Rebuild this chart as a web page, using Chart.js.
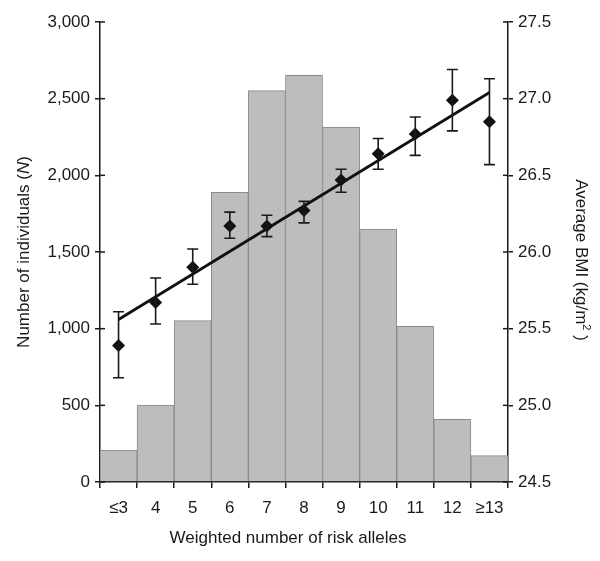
<!DOCTYPE html>
<html>
<head>
<meta charset="utf-8">
<script src="https://cdn.jsdelivr.net/npm/chart.js@4"></script>
<style>
  html, body { margin: 0; padding: 0; background: #fff; }
  #wrap { width: 600px; height: 561px; }
</style>
</head>
<body>
<div id="wrap"><canvas id="c" width="600" height="561"></canvas></div>
<script>
const categories = ["≤3", "4", "5", "6", "7", "8", "9", "10", "11", "12", "≥13"];
const individuals = [208, 502, 1052, 1889, 2552, 2652, 2315, 1650, 1015, 408, 172];
const bmiMean = [25.39, 25.67, 25.90, 26.17, 26.17, 26.27, 26.47, 26.64, 26.77, 26.99, 26.85];
const bmiLow  = [25.18, 25.53, 25.79, 26.09, 26.10, 26.19, 26.39, 26.54, 26.63, 26.79, 26.57];
const bmiHigh = [25.61, 25.83, 26.02, 26.26, 26.24, 26.33, 26.54, 26.74, 26.88, 27.19, 27.13];
const trendLine = [25.56, null, null, null, null, null, null, null, null, null, 27.04];

const FONT = "'Liberation Sans', Arial, Helvetica, sans-serif";
const TXT = '#1a1a1a';

function drawParts(ctx, parts, cx, cy, angle) {
  ctx.save();
  ctx.fillStyle = TXT;
  let total = 0;
  parts.forEach(p => { ctx.font = p.font; total += ctx.measureText(p.t).width; });
  ctx.translate(cx, cy);
  ctx.rotate(angle);
  ctx.textBaseline = 'alphabetic';
  ctx.textAlign = 'left';
  let x = -total / 2;
  parts.forEach(p => {
    ctx.font = p.font;
    ctx.fillText(p.t, x, 6 + (p.dy || 0));
    x += ctx.measureText(p.t).width;
  });
  ctx.restore();
}

const errorBars = {
  id: 'errorBars',
  afterDatasetsDraw(chart) {
    const meta = chart.getDatasetMeta(2);
    const ys = chart.scales.y1;
    const ctx = chart.ctx;
    ctx.save();
    ctx.strokeStyle = '#1a1a1a';
    ctx.lineWidth = 1.6;
    meta.data.forEach((pt, i) => {
      const x = pt.x;
      const yl = ys.getPixelForValue(bmiLow[i]);
      const yh = ys.getPixelForValue(bmiHigh[i]);
      ctx.beginPath();
      ctx.moveTo(x, yl); ctx.lineTo(x, yh);
      ctx.moveTo(x - 5.5, yl); ctx.lineTo(x + 5.5, yl);
      ctx.moveTo(x - 5.5, yh); ctx.lineTo(x + 5.5, yh);
      ctx.stroke();
    });
    ctx.restore();
  },
  afterDraw(chart) {
    const ctx = chart.ctx;
    ctx.save();
    ctx.strokeStyle = '#1a1a1a';
    ctx.lineWidth = 1.5;
    const yl = chart.scales.y, yr = chart.scales.y1;
    yl.ticks.forEach((t, i) => {
      const y = yl.getPixelForTick(i);
      ctx.beginPath(); ctx.moveTo(yl.right, y); ctx.lineTo(yl.right + 5, y); ctx.stroke();
    });
    yr.ticks.forEach((t, i) => {
      const y = yr.getPixelForTick(i);
      ctx.beginPath(); ctx.moveTo(yr.left - 5, y); ctx.lineTo(yr.left, y); ctx.stroke();
    });
    ctx.restore();
    const f = "17px " + FONT;
    const fi = "italic 17px " + FONT;
    const fs = "11px " + FONT;
    // left title
    drawParts(ctx, [{t: "Number of individuals (", font: f}, {t: "N", font: fi}, {t: ")", font: f}],
      23, 252, -Math.PI / 2);
    // right title
    drawParts(ctx, [{t: "Average BMI (kg/m", font: f}, {t: "2", font: fs, dy: -7}, {t: " )", font: f}],
      582, 260, Math.PI / 2);
    // bottom title
    drawParts(ctx, [{t: "Weighted number of risk alleles", font: f}], 288, 537, 0);
  }
};

new Chart(document.getElementById('c'), {
  data: {
    labels: categories,
    datasets: [
      {
        type: 'bar', label: 'Individuals', data: individuals, yAxisID: 'y', order: 3,
        backgroundColor: '#bdbdbd', borderColor: '#8a8a8a', borderWidth: 1,
        categoryPercentage: 1.0, barPercentage: 1.0
      },
      {
        type: 'line', label: 'Trend', data: trendLine, yAxisID: 'y1', order: 2,
        borderColor: '#111', borderWidth: 2.8, pointRadius: 0, spanGaps: true, fill: false
      },
      {
        type: 'line', label: 'BMI', data: bmiMean, yAxisID: 'y1', order: 1,
        showLine: false, pointStyle: 'rectRot', pointRadius: 6.5,
        pointBackgroundColor: '#111', pointBorderColor: '#111', pointBorderWidth: 0
      }
    ]
  },
  options: {
    responsive: false, animation: false, devicePixelRatio: 1,
    layout: { padding: { top: 22, right: 0, bottom: 0, left: 0 } },
    plugins: { legend: { display: false }, tooltip: { enabled: false } },
    scales: {
      x: {
        offset: true,
        grid: { offset: true, drawOnChartArea: false, drawTicks: true, tickLength: 6, color: '#1a1a1a', lineWidth: 1.5 },
        border: { display: true, color: '#1a1a1a', width: 1.5 },
        ticks: { color: TXT, font: { family: FONT, size: 17 }, padding: 10, maxRotation: 0, autoSkip: false },
        afterFit(s) { s.height = 79; }
      },
      y: {
        position: 'left', min: 0, max: 3000,
        grid: { drawOnChartArea: false, tickLength: 5, color: '#1a1a1a', lineWidth: 1.5 },
        border: { display: true, color: '#1a1a1a', width: 1.5 },
        ticks: { stepSize: 500, color: TXT, font: { family: FONT, size: 17 }, padding: 5,
          callback: v => v.toLocaleString('en-US') },
        afterFit(s) { s.width = 100; }
      },
      y1: {
        position: 'right', min: 24.5, max: 27.5,
        grid: { drawOnChartArea: false, tickLength: 5, color: '#1a1a1a', lineWidth: 1.5 },
        border: { display: true, color: '#1a1a1a', width: 1.5 },
        ticks: { stepSize: 0.5, color: TXT, font: { family: FONT, size: 17 }, padding: 5,
          callback: v => v.toFixed(1) },
        afterFit(s) { s.width = 92; }
      }
    }
  },
  plugins: [errorBars]
});
</script>
</body>
</html>
